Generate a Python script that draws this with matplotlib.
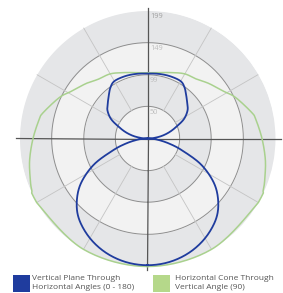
import numpy as np
import matplotlib.pyplot as plt
from matplotlib.patches import Rectangle
from matplotlib.transforms import offset_copy

# ---- data (angles in degrees, 0 = straight down) ----
RINGS = [50, 99, 149, 199]
RMAX = 199

# vertical plane curve, mirrored left/right
vert_angles = [0, 10, 20, 30, 40, 48, 56, 64, 71, 77, 84, 90,
               94, 100, 106, 112, 118, 125, 132, 138, 144, 150, 160, 170, 180]
vert_values = [197, 195, 189, 179, 165, 148, 125, 93, 57, 34, 14, 0,
               9, 22, 35, 48, 64, 76, 83, 90, 98, 103, 103, 102, 101]

# horizontal cone curve, mirrored left/right
cone_angles = [0, 30, 60, 66, 72, 80, 90, 100, 104, 115, 122, 132, 140,
               150, 160, 170, 180]
cone_values = [199, 199, 199, 197, 192, 186, 178, 171, 167, 151, 139, 128, 120,
               116, 109, 104, 102]

legend_labels = ["Vertical Plane Through\nHorizontal Angles (0 - 180)",
                 "Horizontal Cone Through\nVertical Angle (90)"]

BLUE = "#1f3c9e"
GREEN = "#a9d18e"
LIGHT = "#f2f2f2"
DARK = "#e5e6e8"

W, H = 283, 293
fig = plt.figure(figsize=(W / 100, H / 100), dpi=100)
cx, cy, rad = 147.5, 138.5, 128
ax = fig.add_axes([(cx - rad) / W, (H - cy - rad) / H, 2 * rad / W, 2 * rad / H],
                  projection="polar")
ax.set_theta_zero_location("S")
ax.set_ylim(0, RMAX)
ax.grid(False)
ax.set_xticks([])
ax.set_yticks([])
ax.spines["polar"].set_visible(False)
ax.patch.set_alpha(0)

# background bands
t = np.linspace(0, 2 * np.pi, 361)
lo = 0
for i, r in enumerate(RINGS):
    ax.fill_between(t, lo, r, color=LIGHT if i % 2 == 0 else DARK, lw=0, zorder=0)
    lo = r

# rings
for r in RINGS[:-1]:
    ax.plot(t, np.full_like(t, r), color="#8e8e8e", lw=0.7, zorder=1)

# spokes every 30 degrees
for a in range(0, 360, 30):
    if a % 90 == 0:
        continue
    ax.plot([np.radians(a)] * 2, [RINGS[0], RMAX], color="#c4c4c4", lw=0.6, zorder=1)

# main axes lines
for a, ext in [(0, 1.03), (180, 1.02), (90, 1.04), (270, 1.03)]:
    ax.plot([np.radians(a)] * 2, [0, RMAX * ext], color="#555555", lw=0.9,
            zorder=2, clip_on=False)

# ring labels
lab_tr = offset_copy(ax.transData, fig=fig, x=2.5, y=-6, units="dots")
for r in RINGS:
    ax.text(np.pi, r, str(r), transform=lab_tr, ha="left", va="center",
            fontsize=5.3, color="#a0a0a0" if r == RMAX else "#bdbdbd",
            family="Open Sans", zorder=3)


def polar_curve(angles, values, steps=20):
    # mirror to the other side, then draw a smooth closed curve through the points
    a = np.radians(np.concatenate([angles, 360 - np.array(angles[-2:0:-1])]))
    v = np.concatenate([values, values[-2:0:-1]]).astype(float)
    pts = np.column_stack([v * np.sin(a), v * np.cos(a)])
    n = len(pts)
    out = []
    s = np.linspace(0, 1, steps, endpoint=False)[:, None]
    for i in range(n):
        p0, p1, p2, p3 = pts[i - 1], pts[i], pts[(i + 1) % n], pts[(i + 2) % n]
        out.append(0.5 * (2 * p1 + (p2 - p0) * s
                          + (2 * p0 - 5 * p1 + 4 * p2 - p3) * s ** 2
                          + (3 * p1 - p0 - 3 * p2 + p3) * s ** 3))
    out.append(pts[:1])
    xy = np.vstack(out)
    return np.arctan2(xy[:, 0], xy[:, 1]), np.hypot(xy[:, 0], xy[:, 1])


th, rv = polar_curve(vert_angles, vert_values)
ax.plot(th, rv, color=BLUE, lw=1.3, zorder=5, clip_on=False)
th, rc = polar_curve(cone_angles, cone_values)
ax.plot(th, np.minimum(rc, RMAX), color=GREEN, lw=1.1, zorder=4, clip_on=False)

# legend
for (x0, x_txt), col, lab in zip([(13.3, 31.7), (153.3, 175)], [BLUE, "#b5d88a"],
                                 legend_labels):
    fig.add_artist(Rectangle((x0 / W, (H - 291.7) / H), 16.5 / W, 16.7 / H,
                             transform=fig.transFigure, color=col, lw=0))
    fig.text(x_txt / W, (H - 283) / H, lab, ha="left", va="center", fontsize=6.0,
             color="#555555", family="Open Sans", linespacing=1.25)

fig.savefig("out.png", dpi=100)
